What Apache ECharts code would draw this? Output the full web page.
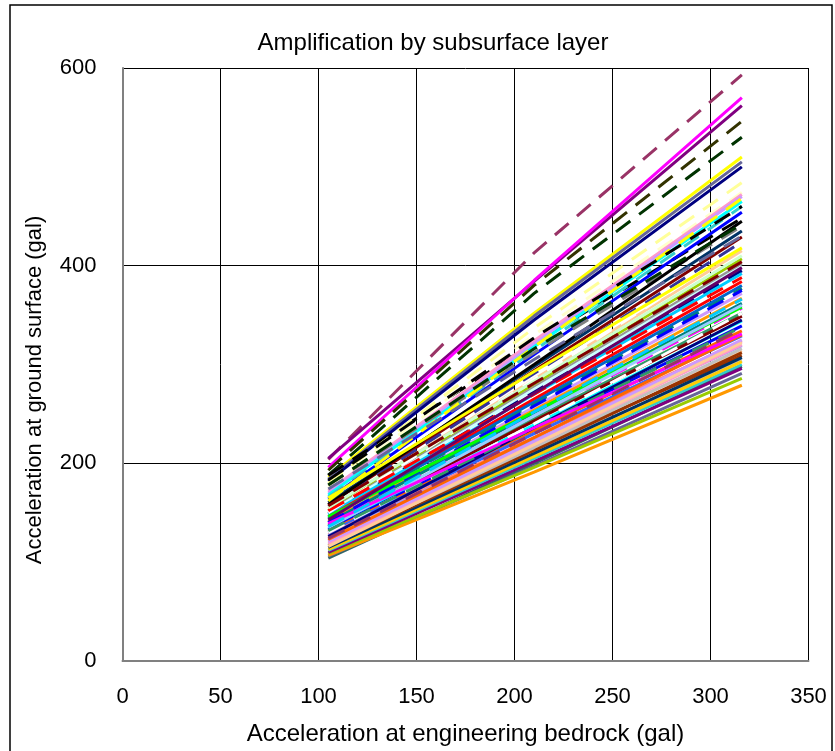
<!DOCTYPE html>
<html lang="en">
<head>
    <meta charset="UTF-8">
    <title>Amplification by subsurface layer</title>
    <script src="https://cdn.jsdelivr.net/npm/echarts@6/dist/echarts.min.js"></script>
    <style>
        html, body {
            margin: 0;
            padding: 0;
            background: #fff;
        }

        #mychart {
            width: 835px;
            height: 751px;
        }
    </style>
</head>
<body>
<div id="mychart"></div>
<script type="text/javascript">
    // bedrock acceleration (gal) at which every site was computed
    var bedrockX = [105, 210, 316];

    // ground surface acceleration (gal) of each site
    var startVals = [204, 205, 196, 193, 188, 186, 184, 182, 188, 180, 176, 172, 170, 168, 166, 164, 178, 160, 158, 156,
        154, 152, 151, 150, 149, 148, 146, 145, 144, 142, 141, 140, 138, 137, 136, 134, 133, 131, 130, 128,
        127, 125, 122, 120, 104, 106, 107, 109, 110, 112, 113, 115, 117, 118, 119, 121, 123, 150, 140, 152,
        146, 143, 158, 162, 135, 155, 126, 130, 132, 157, 139, 124, 136, 174, 116, 183, 178, 165];
    var midVals = [413, 384, 385, 380, 372, 352, 349, 345, 322, 337, 330, 324, 321, 318, 314, 310, 312, 298, 294, 291,
        285, 280, 277, 275, 272, 270, 265, 262, 260, 257, 254, 251, 248, 245, 243, 239, 236, 233, 230, 226,
        223, 220, 216, 212, 200, 197, 191, 196, 202, 205, 207, 210, 213, 216, 219, 222, 226, 285, 258, 270,
        252, 271, 300, 318, 248, 283, 236, 240, 236, 281, 236, 230, 252, 305, 219, 327, 316, 293];
    var endVals = [593, 562, 570, 546, 530, 510, 505, 500, 448, 484, 474, 472, 470, 465, 460, 454, 440, 435, 429, 424,
        415, 407, 402, 399, 395, 392, 384, 380, 377, 372, 367, 362, 357, 352, 349, 344, 339, 334, 329, 324,
        319, 314, 309, 304, 298, 291, 279, 286, 296, 300, 303, 307, 312, 316, 320, 325, 330, 420, 375, 388,
        358, 398, 445, 468, 360, 410, 345, 352, 338, 404, 331, 336, 366, 430, 322, 460, 442, 418];

    var lineColors = ['#993366', '#800080', '#FF00FF', '#333300', '#003300', '#FFFF00', '#666699', '#000080', '#000000', '#FFFF99',
        '#FFFFCC', '#FF99CC', '#CC99FF', '#00FFFF', '#33CCCC', '#0000FF', '#808080', '#003366', '#800000', '#333399',
        '#FFCC99', '#99CC00', '#969696', '#CCFFFF', '#000080', '#00CCFF', '#FF0000', '#0066CC', '#008080', '#CC99FF',
        '#FF9900', '#008080', '#FF00FF', '#339966', '#800000', '#00FFFF', '#0000FF', '#FF6600', '#3366FF', '#FF8080',
        '#9999FF', '#FFCC99', '#993300', '#C0C0C0', '#336666', '#666699', '#FF9900', '#99CC00', '#800080', '#33CCCC',
        '#FFCC00', '#003366', '#993300', '#C0C0C0', '#FF99CC', '#CC99FF', '#FF6600', '#FFFFFF', '#0000FF', '#FF0000',
        '#00FF00', '#660066', '#000000', '#FFFF00', '#99CCFF', '#CCFFCC', '#000080', '#FFFFFF', '#339966', '#800000',
        '#FF00FF', '#993366', '#00CCFF', '#666699', '#FFCC99', '#000000', '#003300', '#FFFF00'];
    // 1 = dashed line, 0 = solid line
    var lineDashed = [1, 0, 0, 1, 1, 0, 0, 0, 1, 1, 1, 0, 0, 0, 1, 0, 1, 0, 0, 1,
        0, 0, 0, 0, 1, 0, 0, 0, 1, 0, 0, 0, 1, 0, 0, 0, 0, 0, 0, 0,
        0, 0, 0, 0, 0, 0, 0, 0, 0, 0, 0, 0, 0, 0, 0, 0, 0, 1, 1, 1,
        0, 0, 0, 1, 0, 0, 0, 1, 1, 1, 0, 1, 1, 1, 0, 1, 1, 0];

    var xTicks = ['0', '50', '100', '150', '200', '250', '300', '350'];
    var yTicks = ['0', '200', '400', '600'];

    var seriesList = [];
    for (var i = 0; i < startVals.length; i++) {
        var ys = [startVals[i], midVals[i], endVals[i]];
        seriesList.push({
            name: 'site' + (i + 1),
            type: 'line',
            symbol: 'none',
            silent: true,
            data: bedrockX.map(function (x, k) {
                return [x, ys[k]];
            }),
            lineStyle: {
                color: lineColors[i],
                width: 3,
                type: lineDashed[i] ? [18, 11] : 'solid'
            }
        });
    }

    var fontName = '"Liberation Sans", Arial, sans-serif';
    var myChart = echarts.init(document.getElementById('mychart'));
    var option = {
        animation: false,
        backgroundColor: '#fff',
        title: {
            text: 'Amplification by subsurface layer',
            left: 428,
            top: 26,
            textAlign: 'center',
            textStyle: {fontFamily: fontName, fontSize: 24, fontWeight: 'normal', color: '#000'}
        },
        graphic: [{
            type: 'rect',
            shape: {x: 10, y: 5, width: 822, height: 800},
            style: {fill: 'none', stroke: '#000', lineWidth: 1.5},
            silent: true
        }, {
            // y axis title sits a little below the middle of the plot
            type: 'text',
            x: 35,
            y: 390,
            rotation: Math.PI / 2,
            style: {
                text: 'Acceleration at ground surface (gal)',
                fontFamily: fontName,
                fontSize: 22,
                fill: '#000',
                align: 'center',
                verticalAlign: 'middle'
            },
            silent: true
        }],
        grid: {left: 122.5, right: 26.5, top: 68, bottom: 86},
        xAxis: {
            type: 'value',
            min: 0,
            max: 350,
            interval: 50,
            name: 'Acceleration at engineering bedrock (gal)',
            nameLocation: 'middle',
            nameGap: 61,
            nameTextStyle: {fontFamily: fontName, fontSize: 24, color: '#000'},
            axisLine: {lineStyle: {color: '#808080', width: 2}},
            axisTick: {show: false},
            axisLabel: {
                fontFamily: fontName, fontSize: 22, color: '#000', margin: 25,
                formatter: function (v) { return xTicks[v / 50]; }
            },
            splitLine: {lineStyle: {color: '#000', width: 1}}
        },
        yAxis: {
            type: 'value',
            min: 0,
            max: 600,
            interval: 200,
            axisLine: {show: true, lineStyle: {color: '#808080', width: 2}},
            axisTick: {show: false},
            axisLabel: {
                fontFamily: fontName, fontSize: 22, color: '#000', margin: 26,
                formatter: function (v) { return yTicks[v / 200]; }
            },
            splitLine: {lineStyle: {color: '#000', width: 1}}
        },
        series: seriesList
    };
    myChart.setOption(option);
</script>
</body>
</html>
